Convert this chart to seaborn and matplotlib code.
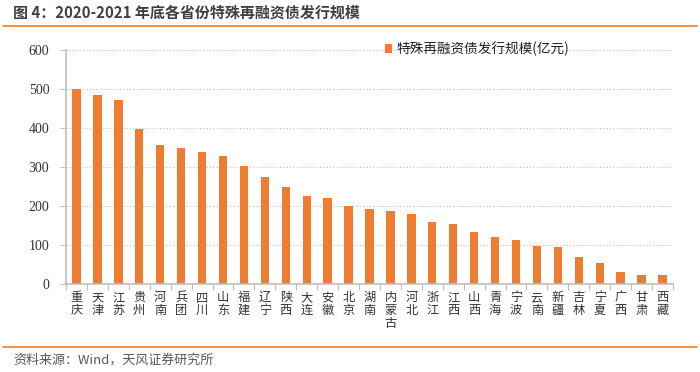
import matplotlib
matplotlib.use("Agg")
import matplotlib.pyplot as plt
import seaborn as sns
import pandas as pd
from matplotlib.patches import Patch
from matplotlib.lines import Line2D
from matplotlib.ticker import FixedLocator

provinces = ["重庆", "天津", "江苏", "贵州", "河南", "兵团", "四川", "山东", "福建", "辽宁",
             "陕西", "大连", "安徽", "北京", "湖南", "内蒙古", "河北", "浙江", "江西", "山西",
             "青海", "宁波", "云南", "新疆", "吉林", "宁夏", "广西", "甘肃", "西藏"]
values = [500, 484, 472, 397, 357, 348, 339, 327, 302, 274,
          248, 225, 221, 200, 193, 188, 180, 160, 155, 133,
          121, 112, 97, 95, 68, 55, 30, 24, 22]
yticks = [0, 100, 200, 300, 400, 500, 600]
series_name = "特殊再融资债发行规模(亿元)"
title = "图 4：2020-2021 年底各省份特殊再融资债发行规模"
source = "资料来源：Wind，天风证券研究所"

sns.set_theme(style="white")
plt.rcParams['font.family'] = ['Noto Sans CJK SC', 'DejaVu Sans']

df = pd.DataFrame({"province": provinces, "value": values})

fig = plt.figure(figsize=(7.0, 3.72), dpi=100)
ax = fig.add_axes([66/700, 1-284/372, (673-66)/700, (284-50)/372])

bar_color = "#ED7D31"
sns.barplot(data=df, x="province", y="value", color=bar_color, width=0.4,
            ax=ax, saturation=1, edgecolor="none")

ax.set_ylim(0, 600)
ax.set_xlim(-0.5, len(provinces) - 0.5)
ax.set_yticks(yticks)
ax.set_yticklabels([str(v) for v in yticks])
for v in yticks[1:]:
    ax.axhline(v, color="#c8c8c8", linestyle=(0, (1.2, 1.8)), linewidth=0.8, zorder=0)

ax.set_xticks(range(len(provinces)))
ax.set_xticklabels(["\n".join(p) for p in provinces], fontsize=8.8, color="#333333",
                   linespacing=0.98, va="top")
ax.xaxis.set_minor_locator(FixedLocator([i + 0.5 for i in range(-1, len(provinces))]))
ax.tick_params(axis="x", which="major", length=0, pad=5)
ax.tick_params(axis="x", which="minor", length=4, color="#bfbfbf", width=0.8, bottom=True)
ax.tick_params(axis="y", which="major", length=4, color="#bfbfbf", width=0.8, left=True, pad=8)

ax.set_xlabel("")
ax.set_ylabel("")
for side in ["top", "right"]:
    ax.spines[side].set_visible(False)
for side in ["left", "bottom"]:
    ax.spines[side].set_color("#bfbfbf")
    ax.spines[side].set_linewidth(1.2)

for lab in ax.get_yticklabels():
    lab.set_fontfamily(["Liberation Serif", "DejaVu Serif"])
    lab.set_fontsize(10)
    lab.set_color("#333333")

handle = Patch(facecolor=bar_color, edgecolor="none")
leg = ax.legend([handle], [series_name], loc="center left",
                bbox_to_anchor=((385 - 66) / 607, (284 - 49) / 234),
                frameon=False, handlelength=0.55, handleheight=0.55, handletextpad=0.3,
                borderaxespad=0, borderpad=0, prop={"size": 9.8})
for t in leg.get_texts():
    t.set_color("#222222")

fig.text(13/700, 1 - 13/372, title, fontsize=10.8, fontweight="bold", color="#404040",
         va="center", ha="left")
fig.add_artist(Line2D([3/700, 697/700], [1 - 25.5/372, 1 - 25.5/372],
                      color="#F07D1E", linewidth=1.2))
fig.add_artist(Line2D([3/700, 697/700], [1 - 346.5/372, 1 - 346.5/372],
                      color="#F07D1E", linewidth=1.2))
fig.text(13/700, 1 - 360/372, source, fontsize=9.4, color="#595959", va="center", ha="left")

fig.savefig("out.png", dpi=100)
